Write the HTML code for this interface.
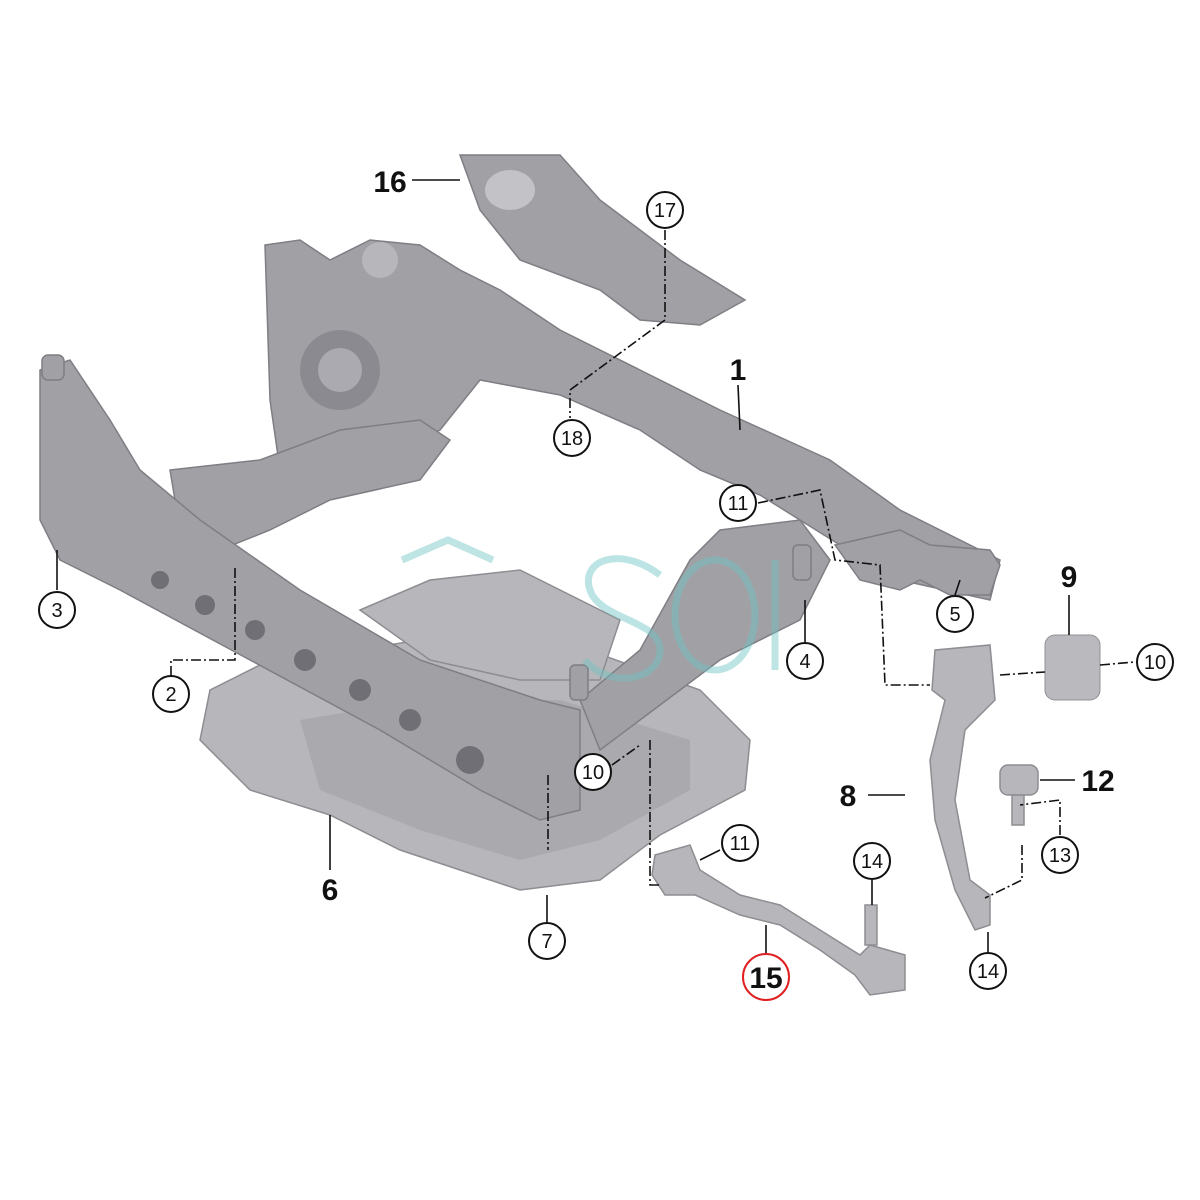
<!DOCTYPE html>
<html><head><meta charset="utf-8"><style>
html,body{margin:0;padding:0;background:#fff;width:1200px;height:1200px;overflow:hidden}
svg{display:block}
text{font-family:"Liberation Sans",Arial,sans-serif;fill:#111}
.c{fill:#fff;stroke:#111;stroke-width:2}
.n{font-size:20px;text-anchor:middle}
.b{font-size:30px;font-weight:bold;text-anchor:middle}
.l{stroke:#111;stroke-width:1.6;fill:none}
.d{stroke:#111;stroke-width:1.6;fill:none;stroke-dasharray:10 3 2 3}
.m{fill:#a0a0a5;stroke:#7e7e84;stroke-width:1.5}
.p{fill:#b6b6bb;stroke:#8d8d92;stroke-width:1.5}
</style></head><body>
<svg width="1200" height="1200" viewBox="0 0 1200 1200">
<!-- plate 6 -->
<path class="p" d="M210 690 L260 665 L420 640 L560 640 L700 690 L750 740 L745 790 L660 835 L600 880 L520 890 L400 850 L330 815 L250 790 L200 740 Z"/>
<path d="M300 720 L420 700 L560 700 L690 740 L690 790 L600 840 L520 860 L420 830 L320 790 Z" fill="#a9a9ae"/>
<path class="p" d="M360 610 L430 580 L520 570 L620 620 L600 680 L520 680 L430 660 Z"/>
<!-- heat shield 16 -->
<path class="m" d="M460 155 L560 155 L600 200 L680 260 L745 300 L700 325 L640 320 L600 290 L520 260 L480 210 Z"/>
<ellipse cx="510" cy="190" rx="25" ry="20" fill="#c3c3c7"/>
<!-- rear crossmember -->
<path class="m" d="M265 245 L300 240 L330 260 L370 240 L420 245 L460 270 L500 290 L560 330 L640 370 L720 410 L830 460 L900 510 L1000 560 L990 600 L900 580 L840 545 L760 495 L700 470 L640 430 L560 395 L480 380 L440 430 L420 440 L380 440 L320 450 L280 470 L270 400 Z"/>
<circle cx="340" cy="370" r="40" fill="#8a8a90"/><circle cx="340" cy="370" r="22" fill="#aaaab0"/>
<circle cx="380" cy="260" r="18" fill="#b6b6bb"/>
<path class="m" d="M170 470 L260 460 L340 430 L420 420 L450 440 L420 480 L330 500 L270 530 L220 550 L180 530 Z"/>
<!-- left main rail -->
<path class="m" d="M40 370 L70 360 L110 420 L140 470 L200 520 L300 590 L420 660 L540 700 L580 710 L580 810 L540 820 L480 790 L380 730 L250 660 L120 590 L60 560 L40 520 Z"/>
<g fill="#6f6f75">
<circle cx="160" cy="580" r="9"/><circle cx="205" cy="605" r="10"/><circle cx="255" cy="630" r="10"/><circle cx="305" cy="660" r="11"/><circle cx="360" cy="690" r="11"/><circle cx="410" cy="720" r="11"/><circle cx="470" cy="760" r="14"/>
</g>
<rect x="42" y="355" width="22" height="25" rx="6" class="m"/>
<path class="m" d="M580 700 L640 650 L690 560 L720 530 L800 520 L830 560 L800 620 L720 660 L640 720 L600 750 Z"/>
<rect x="793" y="545" width="18" height="35" rx="5" class="m"/>
<rect x="570" y="665" width="18" height="35" rx="5" class="m"/>
<path class="m" d="M835 545 L900 530 L930 545 L990 550 L1000 565 L990 595 L950 595 L920 580 L900 590 L860 580 Z"/>
<rect x="1045" y="635" width="55" height="65" rx="10" fill="#b9b9be" stroke="#909095"/>
<path class="p" d="M935 650 L990 645 L995 700 L965 730 L955 800 L970 880 L990 895 L990 925 L975 930 L955 890 L935 820 L930 760 L945 700 L932 690 Z"/>
<rect x="1000" y="765" width="38" height="30" rx="8" class="p"/>
<rect x="1012" y="795" width="12" height="30" class="p"/>
<path class="p" d="M655 855 L690 845 L700 870 L740 895 L780 905 L820 930 L860 955 L870 945 L905 955 L905 990 L870 995 L855 975 L820 950 L780 925 L740 915 L695 895 L665 895 L652 875 Z"/>
<rect x="865" y="905" width="12" height="40" class="p"/>
<g opacity="0.45" fill="none" stroke="#6fc4c4" stroke-width="7">
<path d="M402 560 L448 540 L493 560"/>
<path d="M660 575 C620 545 580 560 590 590 C600 620 660 620 660 650 C660 680 610 690 585 660"/>
<ellipse cx="715" cy="615" rx="40" ry="55"/>
<path d="M775 560 L775 670"/>
</g>
<path class="l" d="M412 180 L460 180"/>
<path class="d" d="M665 230 L665 320 L570 390 L570 418"/>
<path class="l" d="M738 385 L740 430"/>
<path class="d" d="M758 503 L820 490 L835 560 L880 565 L885 685 L930 685"/>
<path class="l" d="M57 590 L57 550"/>
<path class="d" d="M171 676 L171 660 L235 660 L235 565"/>
<path class="l" d="M805 642 L805 600"/>
<path class="l" d="M955 595 L960 580"/>
<path class="l" d="M1069 595 L1069 635"/>
<path class="d" d="M1000 675 L1045 672 M1100 665 L1135 662"/>
<path class="d" d="M612 765 L640 745 M650 740 L650 885 L660 885"/>
<path class="d" d="M548 775 L548 850"/>
<path class="l" d="M720 850 L700 860"/>
<path class="l" d="M872 880 L872 905"/>
<path class="l" d="M1040 780 L1075 780"/>
<path class="d" d="M1060 835 L1060 800 L1020 805 M1022 845 L1022 880 L985 898"/>
<path class="l" d="M868 795 L905 795"/>
<path class="l" d="M330 870 L330 815"/>
<path class="l" d="M547 922 L547 895"/>
<path class="l" d="M988 952 L988 932"/>
<path class="l" d="M766 957 L766 925"/>
<text class="b" x="390" y="192">16</text>
<text class="b" x="738" y="380">1</text>
<text class="b" x="1069" y="587">9</text>
<text class="b" x="1098" y="791">12</text>
<text class="b" x="848" y="806">8</text>
<text class="b" x="330" y="900">6</text>
<g>
<circle class="c" cx="665" cy="210" r="18"/><text class="n" x="665" y="217">17</text>
<circle class="c" cx="572" cy="438" r="18"/><text class="n" x="572" y="445">18</text>
<circle class="c" cx="738" cy="503" r="18"/><text class="n" x="738" y="510">11</text>
<circle class="c" cx="57" cy="610" r="18"/><text class="n" x="57" y="617">3</text>
<circle class="c" cx="171" cy="694" r="18"/><text class="n" x="171" y="701">2</text>
<circle class="c" cx="805" cy="661" r="18"/><text class="n" x="805" y="668">4</text>
<circle class="c" cx="955" cy="614" r="18"/><text class="n" x="955" y="621">5</text>
<circle class="c" cx="1155" cy="662" r="18"/><text class="n" x="1155" y="669">10</text>
<circle class="c" cx="593" cy="772" r="18"/><text class="n" x="593" y="779">10</text>
<circle class="c" cx="740" cy="843" r="18"/><text class="n" x="740" y="850">11</text>
<circle class="c" cx="872" cy="861" r="18"/><text class="n" x="872" y="868">14</text>
<circle class="c" cx="1060" cy="855" r="18"/><text class="n" x="1060" y="862">13</text>
<circle class="c" cx="547" cy="941" r="18"/><text class="n" x="547" y="948">7</text>
<circle class="c" cx="988" cy="971" r="18"/><text class="n" x="988" y="978">14</text>
<circle cx="766" cy="977" r="23" fill="#fff" stroke="#e02020" stroke-width="2"/><text x="766" y="988" style="font-size:30px;font-weight:bold;text-anchor:middle">15</text>
</g>
</svg>
</body></html>
